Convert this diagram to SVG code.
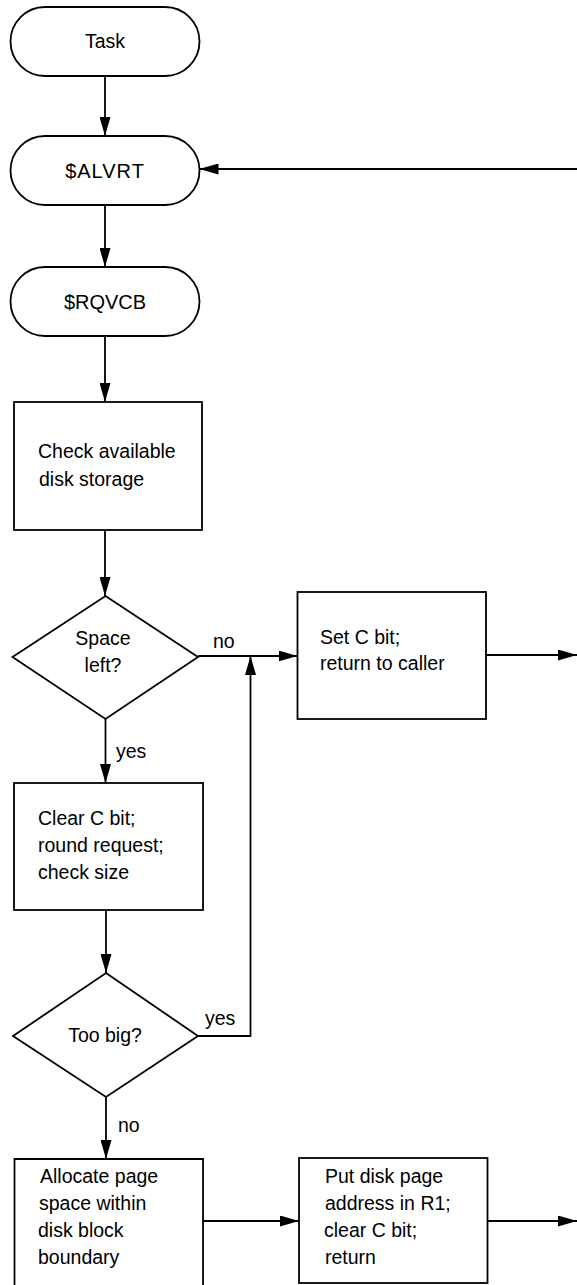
<svg xmlns="http://www.w3.org/2000/svg" width="577" height="1285" viewBox="0 0 577 1285">
<style>
.shape{fill:#fff;stroke:#000;stroke-width:1.8}
.conn{fill:none;stroke:#000;stroke-width:1.8}
text{font-family:"Liberation Sans",Arial,Helvetica,sans-serif;font-size:19.5px;fill:#000}
.c{text-anchor:middle}
.t{font-size:20px}
</style>
<defs>
<marker id="ah" markerWidth="19" markerHeight="11" refX="19" refY="5.5" orient="auto" markerUnits="userSpaceOnUse">
<path d="M0,0 L19,5.5 L0,11 Z" fill="#000"/>
</marker>
</defs>
<rect width="577" height="1285" fill="#fff"/>
<g id="connectors">
<line class="conn" x1="105" y1="76" x2="105" y2="136" marker-end="url(#ah)"/>
<line class="conn" x1="577" y1="169" x2="199.5" y2="169" marker-end="url(#ah)"/>
<line class="conn" x1="105" y1="205" x2="105" y2="267" marker-end="url(#ah)"/>
<line class="conn" x1="105" y1="336" x2="105" y2="402" marker-end="url(#ah)"/>
<line class="conn" x1="105" y1="530" x2="105" y2="596" marker-end="url(#ah)"/>
<line class="conn" x1="198" y1="656" x2="297.5" y2="656" marker-end="url(#ah)"/>
<line class="conn" x1="486" y1="655" x2="577" y2="655" marker-end="url(#ah)"/>
<line class="conn" x1="105.5" y1="719" x2="105.5" y2="783" marker-end="url(#ah)"/>
<line class="conn" x1="106" y1="910" x2="106" y2="973" marker-end="url(#ah)"/>
<polyline class="conn" points="198,1036 250.5,1036 250.5,656" marker-end="url(#ah)"/>
<line class="conn" x1="106" y1="1097" x2="106" y2="1159" marker-end="url(#ah)"/>
<line class="conn" x1="203" y1="1221" x2="299" y2="1221" marker-end="url(#ah)"/>
<line class="conn" x1="487.5" y1="1221" x2="577" y2="1221" marker-end="url(#ah)"/>
<text x="213" y="648">no</text>
<text x="116" y="758">yes</text>
<text x="205" y="1025">yes</text>
<text x="118" y="1132">no</text>
</g>
<g id="task">
<rect class="shape" x="10.5" y="7" width="189" height="69" rx="34.5" ry="34.5"/>
<text class="c" x="105" y="47.5">Task</text>
</g>
<g id="alvrt">
<rect class="shape" x="10.5" y="136" width="189" height="69" rx="34.5" ry="34.5"/>
<text class="c t" x="105" y="177.5" letter-spacing="1">$ALVRT</text>
</g>
<g id="rqvcb">
<rect class="shape" x="10.5" y="267" width="189" height="69" rx="34.5" ry="34.5"/>
<text class="c t" x="105" y="308.5">$RQVCB</text>
</g>
<g id="check">
<rect class="shape" x="14" y="402" width="188" height="128"/>
<text x="38" y="458">Check available</text>
<text x="39" y="486">disk storage</text>
</g>
<g id="spaceleft">
<polygon class="shape" points="105.5,596 198,657 105.5,719 12.5,657"/>
<text class="c" x="103" y="645">Space</text>
<text class="c" x="103" y="672">left?</text>
</g>
<g id="setc">
<rect class="shape" x="297.5" y="592" width="188.5" height="127"/>
<text x="320" y="644">Set C bit;</text>
<text x="320" y="670">return to caller</text>
</g>
<g id="clearc">
<rect class="shape" x="14" y="783" width="189" height="127"/>
<text x="38" y="825">Clear C bit;</text>
<text x="38" y="852">round request;</text>
<text x="38" y="879">check size</text>
</g>
<g id="toobig">
<polygon class="shape" points="106,973 198,1036 106,1097 13,1036"/>
<text class="c" x="105" y="1042">Too big?</text>
</g>
<g id="allocate">
<path class="shape" d="M14.5,1290 L14.5,1159 L203,1159 L203,1290"/>
<text x="40" y="1183">Allocate page</text>
<text x="39" y="1210">space within</text>
<text x="38" y="1237">disk block</text>
<text x="38" y="1264">boundary</text>
</g>
<g id="putdisk">
<rect class="shape" x="299" y="1158" width="188.5" height="125"/>
<text x="325" y="1183">Put disk page</text>
<text x="325" y="1210">address in R1;</text>
<text x="324" y="1237">clear C bit;</text>
<text x="325" y="1264">return</text>
</g>
</svg>
